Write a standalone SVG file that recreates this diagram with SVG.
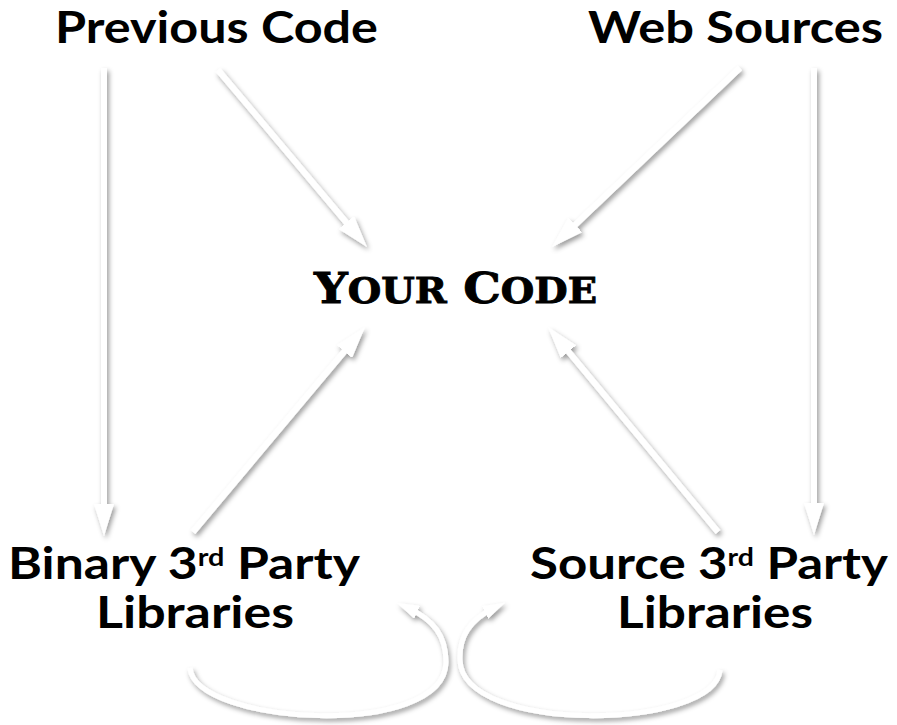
<svg xmlns="http://www.w3.org/2000/svg" width="897" height="725" viewBox="0 0 897 725">
  <style>
    .label { font-family: Lato, "Open Sans", "DejaVu Sans", sans-serif; font-weight: 700; font-size: 43px; fill: #000; text-anchor: middle; }
    .sup { font-size: 24px; }
    .title { font-family: "DejaVu Serif", "Liberation Serif", serif; font-weight: 700; fill: #000; stroke: #000; stroke-width: 0.9; text-anchor: middle; }
    .shaft { fill: none; stroke: #fff; stroke-width: 6; stroke-linecap: butt; }
    .curve { fill: none; stroke: #fff; stroke-width: 5; stroke-linecap: butt; }
  </style>
  <defs>
    <filter id="shadow" x="-20%" y="-20%" width="140%" height="140%">
      <feDropShadow dx="2" dy="3" stdDeviation="2.5" flood-color="#000" flood-opacity="0.4"/>
    </filter>
    <marker id="head" viewBox="0 0 32 20" refX="12" refY="10" markerWidth="32" markerHeight="20" markerUnits="userSpaceOnUse" orient="auto">
      <path d="M0,0 L32,10 L0,20 Z" fill="#fff"/>
    </marker>
    <marker id="headSmall" viewBox="0 0 22 14" refX="10" refY="7" markerWidth="22" markerHeight="14" markerUnits="userSpaceOnUse" orient="auto">
      <path d="M0,0 L22,7 L0,14 Z" fill="#fff"/>
    </marker>
  </defs>
  <rect width="897" height="725" fill="#fff"/>

  <!-- connectors -->
  <g id="connectors" filter="url(#shadow)">
    <path class="shaft" d="M104,68 L104,516" marker-end="url(#head)"/>
    <path class="shaft" d="M814,68 L814,515" marker-end="url(#head)"/>
    <path class="shaft" d="M218,70 L354.1,231.7" marker-end="url(#head)"/>
    <path class="shaft" d="M740,68 L566.5,233.2" marker-end="url(#head)"/>
    <path class="shaft" d="M193,532 L352.1,342.3" marker-end="url(#head)"/>
    <path class="shaft" d="M718,532 L560.8,342.4" marker-end="url(#head)"/>
    <path class="curve" d="M190,668 C195,725 445,740 446,662 C446,636 434,620 408,608" marker-end="url(#headSmall)"/>
    <path class="curve" d="M720,670 C715,730 462,735 460,660 C459,636 470,620 494,608" marker-end="url(#headSmall)"/>
  </g>

  <!-- nodes -->
  <g id="previous-code">
    <text class="label" x="216.5" y="43" textLength="323" lengthAdjust="spacingAndGlyphs">Previous Code</text>
  </g>
  <g id="web-sources">
    <text class="label" x="735.5" y="43" textLength="295" lengthAdjust="spacingAndGlyphs">Web Sources</text>
  </g>
  <g id="your-code">
    <text class="title" x="455.5" y="303" textLength="283" lengthAdjust="spacingAndGlyphs"><tspan font-size="43">Y</tspan><tspan font-size="35">OUR</tspan><tspan font-size="43"> C</tspan><tspan font-size="35">ODE</tspan></text>
  </g>
  <g id="binary-libs">
    <text class="label" x="184" y="579" textLength="352" lengthAdjust="spacingAndGlyphs">Binary 3<tspan class="sup" dy="-13">rd</tspan><tspan dy="13"> Party</tspan></text>
    <text class="label" x="195" y="628" textLength="198" lengthAdjust="spacingAndGlyphs">Libraries</text>
  </g>
  <g id="source-libs">
    <text class="label" x="709" y="579" textLength="358" lengthAdjust="spacingAndGlyphs">Source 3<tspan class="sup" dy="-13">rd</tspan><tspan dy="13"> Party</tspan></text>
    <text class="label" x="715" y="628" textLength="196" lengthAdjust="spacingAndGlyphs">Libraries</text>
  </g>
</svg>
